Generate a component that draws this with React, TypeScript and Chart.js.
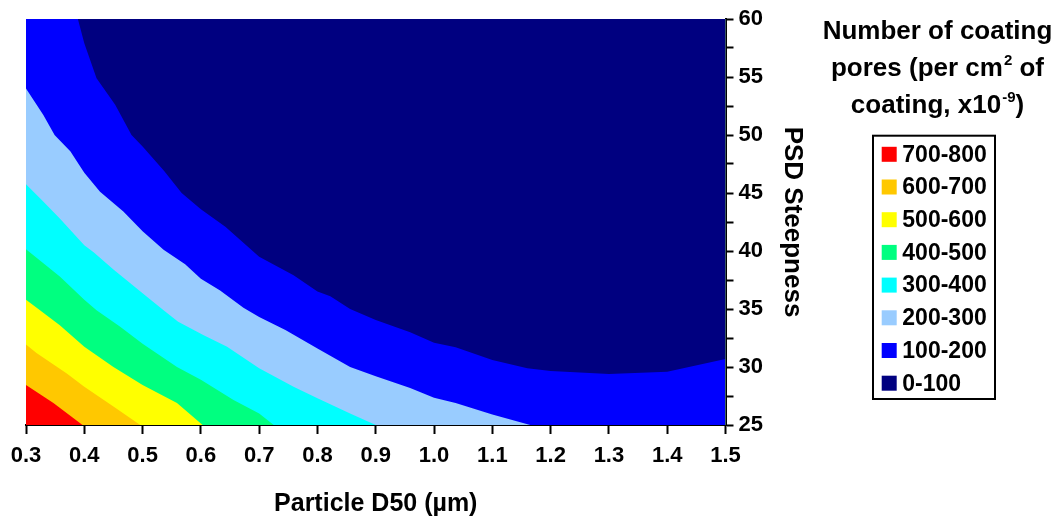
import React, { useEffect, useRef } from 'react';
import { Chart, registerables } from 'chart.js';

Chart.register(...registerables);

// ---- Data ----
const bandLabels = ['700-800', '600-700', '500-600', '400-500', '300-400', '200-300', '100-200', '0-100'];
const bandColors = ['#FF0000', '#FFC800', '#FFFF00', '#00FF80', '#00FFFF', '#99CCFF', '#0000FF', '#000080'];

const legendTitleLines: { t: string; sup?: boolean }[][] = [
  [{ t: 'Number of coating' }],
  [{ t: 'pores (per cm' }, { t: '2', sup: true }, { t: ' of' }],
  [{ t: 'coating, x10' }, { t: '-9', sup: true }, { t: ')' }],
];

// Contour boundaries [Particle D50, PSD Steepness]; region above each line belongs to the next band
const contourBase = [[0.3, 25], [1.5, 25]];
const contour700 = [[0.3, 28.45], [0.347, 26.9], [0.397, 25], [1.5, 25]];
const contour600 = [[0.3, 31.95], [0.318, 31.2], [0.37, 29.45], [0.4, 28.3], [0.45, 26.6], [0.496, 25], [1.5, 25]];
const contour500 = [[0.3, 35.8], [0.324, 34.9], [0.358, 33.6], [0.4, 31.75], [0.45, 30.0], [0.5, 28.45], [0.559, 26.9], [0.603, 25], [1.5, 25]];
const contour400 = [[0.3, 40.15], [0.358, 37.8], [0.4, 35.8], [0.421, 34.9], [0.461, 33.5], [0.5, 32.0], [0.559, 30.0], [0.6, 28.9], [0.656, 27.15], [0.7, 26.0], [0.725, 25], [1.5, 25]];
const contour300 = [[0.3, 45.75], [0.33, 44.25], [0.358, 42.8], [0.4, 40.5], [0.416, 39.9], [0.45, 38.4], [0.5, 36.35], [0.536, 34.9], [0.561, 33.9], [0.604, 32.75], [0.645, 31.75], [0.7, 29.9], [0.759, 28.3], [0.8, 27.3], [0.856, 26.0], [0.9, 25], [1.5, 25]];
const contour200 = [[0.3, 54.0], [0.33, 51.7], [0.349, 50.0], [0.376, 48.6], [0.4, 46.75], [0.427, 45.1], [0.467, 43.4], [0.5, 41.7], [0.536, 40.1], [0.573, 38.85], [0.6, 37.6], [0.633, 36.6], [0.673, 35.1], [0.7, 34.3], [0.745, 33.2], [0.8, 31.6], [0.856, 30.0], [0.9, 29.2], [0.959, 28.2], [1.0, 27.35], [1.037, 26.9], [1.1, 25.9], [1.165, 25], [1.5, 25]];
const contour100 = [[0.3, 60], [0.389, 60], [0.4, 57.9], [0.421, 54.9], [0.453, 52.6], [0.481, 50.0], [0.5, 49.0], [0.537, 46.9], [0.567, 45.0], [0.6, 43.6], [0.642, 42.1], [0.7, 39.5], [0.759, 37.9], [0.8, 36.5], [0.822, 36.1], [0.856, 35.0], [0.9, 34.05], [0.959, 33.0], [1.0, 32.1], [1.037, 31.7], [1.1, 30.6], [1.16, 29.9], [1.2, 29.65], [1.3, 29.4], [1.4, 29.6], [1.5, 30.7]];

const xMin = 0.3, xMax = 1.5, xStep = 0.1;
const yMin = 25, yMax = 60, yStep = 2.5, yLabelEvery = 5;

const FONT = "'Liberation Sans', Arial, Helvetica, sans-serif";

const legendPlugin = {
  id: 'contourLegend',
  afterDraw(chart: any) {
    const ctx = chart.ctx as CanvasRenderingContext2D;
    ctx.save();
    const cx = 929.5;
    const baselines = [30.5, 67.5, 105];
    const mainFont = `bold 26px ${FONT}`;
    const supFont = `bold 15px ${FONT}`;
    ctx.fillStyle = '#000';
    ctx.textBaseline = 'alphabetic';
    ctx.textAlign = 'left';
    legendTitleLines.forEach((parts, li) => {
      let total = 0;
      const widths = parts.map((p) => {
        ctx.font = p.sup ? supFont : mainFont;
        const w = ctx.measureText(p.t).width + (p.sup ? 1 : 0);
        total += w;
        return w;
      });
      let x = cx - total / 2;
      parts.forEach((p, i) => {
        ctx.font = p.sup ? supFont : mainFont;
        ctx.fillText(p.t, x + (p.sup ? 1 : 0), baselines[li] - (p.sup ? 11 : 0));
        x += widths[i];
      });
    });
    // legend box
    const boxL = 865, boxT = 127.7, boxW = 122, boxH = 263.3;
    ctx.lineWidth = 2;
    ctx.strokeStyle = '#000';
    ctx.strokeRect(boxL, boxT, boxW, boxH);
    ctx.font = `bold 23px ${FONT}`;
    ctx.textBaseline = 'middle';
    bandLabels.forEach((lab, i) => {
      const cy = 146.3 + i * 32.7;
      ctx.fillStyle = bandColors[i];
      ctx.fillRect(873.7, cy - 7.5, 15, 15);
      ctx.fillStyle = '#000';
      ctx.fillText(lab, 894.3, cy + 1);
    });
    ctx.restore();
  },
};

export default function App() {
  const ref = useRef<HTMLCanvasElement>(null);
  useEffect(() => {
    if (!ref.current) return;
    Chart.defaults.font.family = FONT;
    const boundaries = [contourBase, contour700, contour600, contour500, contour400, contour300, contour200, contour100];
    const datasets = boundaries.map((pts, i) => ({
      label: bandLabels[i],
      data: pts.map(([x, y]) => ({ x, y })),
      fill: 'end',
      backgroundColor: bandColors[i],
      borderColor: 'rgba(0,0,0,0)',
      borderWidth: 1,
      pointRadius: 0,
      pointHoverRadius: 0,
      tension: 0,
      order: 100 - i,
    }));
    const chart = new Chart(ref.current, {
      type: 'line',
      data: { datasets } as any,
      options: {
        animation: false,
        responsive: true,
        maintainAspectRatio: false,
        events: [],
        layout: { padding: { left: 18, top: 11, right: 240.5, bottom: 0 } },
        plugins: { legend: { display: false }, tooltip: { enabled: false } },
        scales: {
          x: {
            type: 'linear',
            position: 'bottom',
            min: xMin,
            max: xMax,
            ticks: {
              stepSize: xStep,
              autoSkip: false,
              maxRotation: 0,
              padding: 9,
              color: '#000',
              font: { size: 22, weight: 'bold' },
              callback: (v: any) => Number(v).toFixed(1),
            },
            grid: { drawOnChartArea: false, tickLength: 9, tickColor: '#000', tickWidth: 2, color: '#000' },
            border: { color: '#000', width: 2 },
            title: { display: true, text: 'Particle D50 (µm)', color: '#000', font: { size: 25, weight: 'bold' }, padding: { top: 0, bottom: 4 } },
            afterFit: (s: any) => { s.height = 98; s.paddingLeft = 0; s.paddingRight = 0; },
          },
          y: {
            type: 'linear',
            position: 'right',
            min: yMin,
            max: yMax,
            ticks: {
              stepSize: yStep,
              autoSkip: false,
              padding: 5,
              color: '#000',
              font: { size: 22, weight: 'bold' },
              callback: (v: any) => (Number(v) % yLabelEvery === 0 ? String(v) : ''),
            },
            grid: { drawOnChartArea: false, tickLength: 8, tickColor: '#000', tickWidth: 2, color: '#000' },
            border: { color: '#000', width: 2 },
            title: { display: true, text: 'PSD Steepness', color: '#000', font: { size: 26, weight: 'bold' }, padding: { top: 3, bottom: 0 } },
            afterFit: (s: any) => { s.width = 85; s.paddingTop = 0; s.paddingBottom = 0; },
          },
        },
      } as any,
      plugins: [legendPlugin],
    });
    return () => chart.destroy();
  }, []);
  return (
    <div style={{ width: 1043, height: 515, position: 'relative' }}>
      <canvas ref={ref} />
    </div>
  );
}
